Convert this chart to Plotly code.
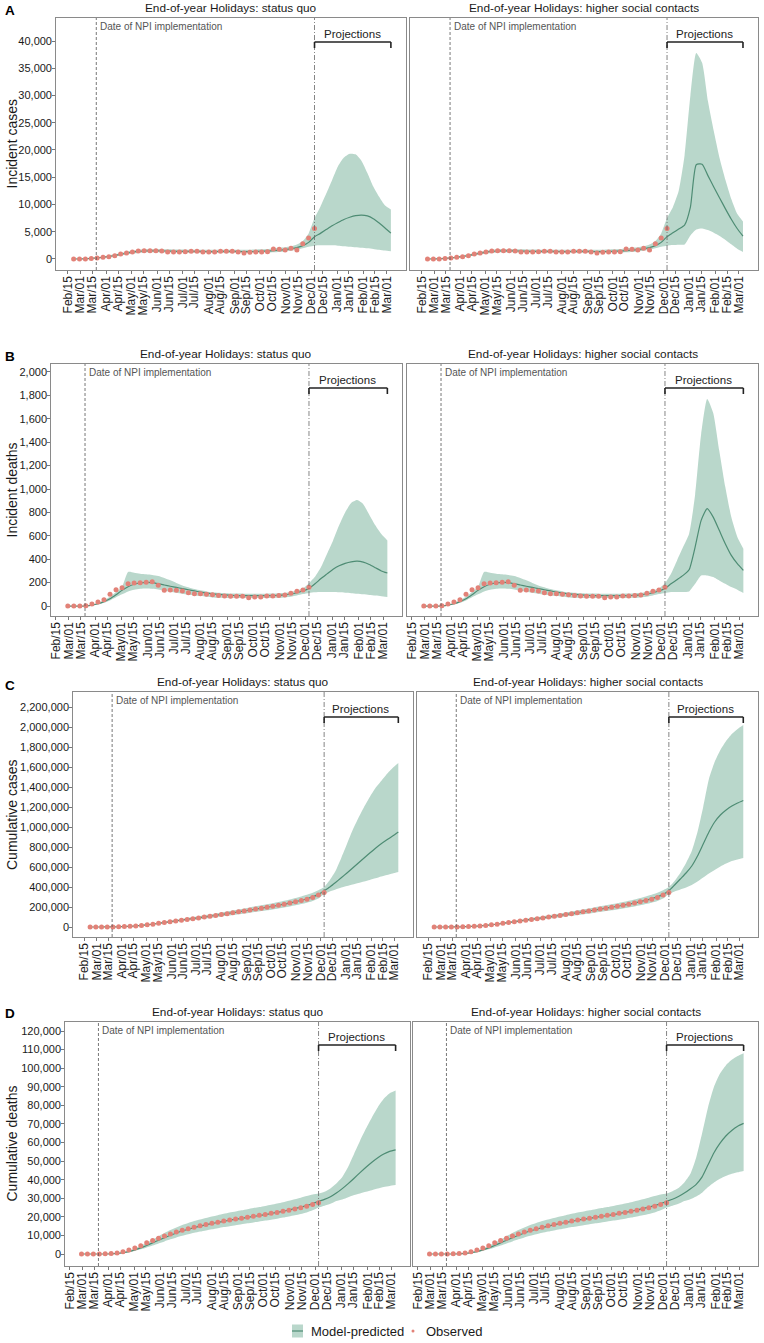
import plotly.graph_objects as go
import pandas as pd

W, H = 764, 1343
FONT = "Liberation Sans, Arial, Helvetica, sans-serif"

# ------------------------------------------------------------------ dates
cases_obs_dates = pd.date_range("2020-02-22", "2020-12-05", freq="7D")
deaths_obs_dates = pd.date_range("2020-02-29", "2020-12-05", freq="7D")
cases_fit_dates = pd.date_range("2020-02-22", "2020-11-28", freq="7D")
deaths_fit_dates = pd.date_range("2020-02-29", "2020-11-28", freq="7D")
proj_dates = pd.date_range("2020-12-05", "2021-03-06", freq="7D")
npi_date = "2020-03-20"
proj_start = "2020-12-05"
proj_end = "2021-03-06"
proj_mid = "2021-01-19"

tick_dates = ["2020-02-15", "2020-03-01", "2020-03-15", "2020-04-01", "2020-04-15",
              "2020-05-01", "2020-05-15", "2020-06-01", "2020-06-15", "2020-07-01",
              "2020-07-15", "2020-08-01", "2020-08-15", "2020-09-01", "2020-09-15",
              "2020-10-01", "2020-10-15", "2020-11-01", "2020-11-15", "2020-12-01",
              "2020-12-15", "2021-01-01", "2021-01-15", "2021-02-01", "2021-02-15",
              "2021-03-01"]
tick_text = ["Feb/15", "Mar/01", "Mar/15", "Apr/01", "Apr/15", "May/01", "May/15",
             "Jun/01", "Jun/15", "Jul/01", "Jul/15", "Aug/01", "Aug/15", "Sep/01",
             "Sep/15", "Oct/01", "Oct/15", "Nov/01", "Nov/15", "Dec/01", "Dec/15",
             "Jan/01", "Jan/15", "Feb/01", "Feb/15", "Mar/01"]

scenario_titles = ["End-of-year Holidays: status quo",
                   "End-of-year Holidays: higher social contacts"]
legend_labels = ["Model-predicted", "Observed"]

# ------------------------------------------------------------------ incident cases
inc_cases_obs = [0, 0, 20, 80, 180, 300, 430, 600, 900, 1100, 1300, 1450, 1500, 1500,
                 1500, 1480, 1300, 1280, 1300, 1350, 1420, 1400, 1300, 1280, 1290, 1400,
                 1420, 1400, 1300, 1100, 1220, 1280, 1280, 1340, 1830, 1770, 1650, 1950,
                 1650, 2800, 3850, 5600]
inc_cases_fit_mid = [0, 10, 40, 100, 190, 310, 460, 640, 850, 1060, 1250, 1390, 1470, 1500,
                     1500, 1480, 1450, 1420, 1400, 1390, 1390, 1390, 1380, 1370, 1370, 1380,
                     1390, 1390, 1380, 1370, 1370, 1390, 1420, 1470, 1540, 1620, 1720, 1860,
                     2080, 2450, 3050]
inc_cases_fit_hi = [0, 20, 70, 160, 290, 450, 640, 850, 1080, 1320, 1540, 1700, 1790, 1830,
                    1830, 1810, 1780, 1750, 1720, 1710, 1710, 1710, 1700, 1690, 1690, 1700,
                    1710, 1710, 1700, 1700, 1710, 1740, 1780, 1850, 1940, 2040, 2170, 2340,
                    2650, 3300, 4700]
inc_cases_fit_lo = [0, 0, 20, 60, 120, 210, 330, 470, 640, 820, 990, 1120, 1190, 1220,
                    1220, 1200, 1180, 1150, 1130, 1120, 1120, 1120, 1110, 1100, 1100, 1110,
                    1120, 1120, 1110, 1100, 1100, 1120, 1140, 1180, 1230, 1300, 1390, 1500,
                    1680, 1950, 2250]
inc_cases_sq_mid = [4100, 4700, 5400, 6100, 6700, 7250, 7650, 7950, 8050, 7900, 7400, 6600, 5700, 4750]
inc_cases_sq_hi = [7500, 9600, 12000, 14500, 17000, 18600, 19300, 19200, 18000, 15800, 13300, 11400, 9800, 9100]
inc_cases_sq_lo = [2450, 2500, 2500, 2500, 2450, 2350, 2250, 2150, 2050, 1950, 1850, 1700, 1550, 1400]
inc_cases_hc_mid = [4100, 4800, 5500, 6200, 9500, 17300, 17400, 15300, 13200, 11200, 9200, 7300, 5600, 4200]
inc_cases_hc_hi = [7500, 9500, 12500, 19000, 30000, 37800, 36000, 29000, 23500, 18500, 14500, 11000, 8300, 6900]
inc_cases_hc_lo = [2450, 2550, 2600, 2650, 4300, 5400, 5600, 5300, 4800, 4200, 3500, 2700, 1900, 1300]

# ------------------------------------------------------------------ incident deaths
inc_deaths_obs = [0, 0, 0, 3, 17, 34, 54, 100, 140, 157, 191, 197, 200, 203, 208, 177, 134,
                  137, 134, 129, 114, 106, 106, 100, 97, 91, 86, 83, 83, 83, 71, 77, 77, 86,
                  86, 91, 94, 109, 126, 137, 160]
inc_deaths_fit_mid = [0, 0, 0, 2, 8, 20, 38, 63, 97, 134, 165, 186, 198, 203, 200, 191, 180,
                      169, 159, 149, 139, 129, 120, 111, 105, 100, 95, 91, 90, 89, 89, 89, 89,
                      89, 90, 91, 96, 103, 114, 129]
inc_deaths_fit_hi = [0, 0, 0, 3, 12, 28, 50, 80, 120, 165, 291, 285, 277, 271, 265, 256, 240,
                     220, 198, 176, 160, 145, 134, 125, 118, 113, 110, 108, 107, 106, 106, 106,
                     106, 106, 107, 109, 114, 121, 133, 150]
inc_deaths_fit_lo = [0, 0, 0, 1, 5, 13, 28, 48, 75, 100, 125, 140, 148, 150, 148, 142, 133,
                     122, 113, 106, 98, 91, 85, 79, 74, 71, 69, 68, 68, 68, 68, 68, 68, 68, 69,
                     70, 74, 80, 90, 102]
inc_deaths_sq_mid = [151, 190, 235, 275, 315, 345, 365, 378, 383, 375, 355, 328, 300, 282]
inc_deaths_sq_hi = [195, 250, 333, 447, 561, 690, 800, 880, 905, 870, 780, 690, 615, 560]
inc_deaths_sq_lo = [112, 118, 120, 120, 120, 118, 114, 110, 105, 100, 95, 90, 84, 78]
inc_deaths_hc_mid = [151, 190, 225, 262, 310, 504, 732, 832, 760, 647, 533, 433, 362, 305]
inc_deaths_hc_hi = [195, 276, 390, 504, 618, 950, 1470, 1770, 1650, 1330, 1020, 760, 590, 490]
inc_deaths_hc_lo = [112, 120, 120, 120, 125, 190, 262, 262, 248, 219, 190, 162, 140, 111]

# ------------------------------------------------------------------ cumulative cases
cum_cases_obs = [0, 0, 100, 400, 1000, 2200, 4000, 6700, 10500, 15500, 21500, 28500, 36500,
                 44500, 52500, 60500, 68500, 76000, 83500, 91000, 99000, 107500, 116000,
                 124500, 133000, 142000, 151500, 161000, 170500, 179500, 188500, 197500,
                 207000, 217000, 228500, 240500, 252000, 265500, 278500, 296000, 319000, 345000]
cum_cases_fit_mid = [0, 0, 200, 600, 1300, 2500, 4300, 7000, 10800, 15700, 21700, 28800, 36700,
                     44800, 52900, 61000, 69000, 76700, 84300, 92000, 100000, 108300, 116700,
                     125000, 133500, 142300, 151300, 160500, 169800, 179000, 188200, 197600,
                     207300, 217500, 228500, 240500, 253500, 267500, 283000, 301500, 326000]
cum_cases_fit_hi = [0, 0, 300, 800, 1700, 3200, 5400, 8600, 13200, 19100, 26300, 34800, 44200,
                    53700, 63100, 72400, 81500, 90300, 99000, 107800, 116800, 126300, 135800,
                    145300, 155000, 165000, 175200, 185600, 196100, 206500, 216900, 227500,
                    238500, 250000, 262500, 276000, 290500, 306000, 323000, 343000, 368000]
cum_cases_fit_lo = [0, 0, 100, 400, 900, 1800, 3200, 5300, 8300, 12300, 17100, 22800, 29200,
                    35900, 42700, 49600, 56500, 63100, 69600, 76200, 83200, 90300, 97600,
                    104700, 112000, 119600, 127400, 135400, 143500, 151500, 159500, 167700,
                    176100, 185000, 194500, 205000, 216500, 229000, 243000, 260000, 284000]
cum_cases_sq_mid = [362000, 400000, 445000, 492000, 540000, 590000, 640000, 690000, 740000,
                    788000, 832000, 872000, 910000, 950000]
cum_cases_sq_hi = [400000, 470000, 560000, 690000, 830000, 970000, 1090000, 1200000, 1300000,
                   1390000, 1460000, 1530000, 1590000, 1640000]
cum_cases_sq_lo = [330000, 355000, 375000, 395000, 410000, 425000, 440000, 455000, 470000,
                   487000, 505000, 520000, 535000, 550000]
cum_cases_hc_mid = [362000, 420000, 480000, 540000, 610000, 710000, 830000, 950000, 1050000,
                    1120000, 1170000, 1210000, 1240000, 1265000]
cum_cases_hc_hi = [400000, 460000, 540000, 640000, 760000, 950000, 1200000, 1480000, 1650000,
                   1770000, 1860000, 1930000, 1980000, 2020000]
cum_cases_hc_lo = [330000, 355000, 375000, 395000, 420000, 455000, 495000, 535000, 570000,
                   605000, 635000, 660000, 675000, 690000]

# ------------------------------------------------------------------ cumulative deaths
cum_deaths_obs = [0, 0, 0, 0, 100, 250, 500, 1200, 2100, 3300, 4500, 6000, 7300, 8500, 9700,
                  10800, 11900, 12800, 13600, 14400, 15200, 15900, 16500, 17100, 17700, 18300,
                  18800, 19300, 19800, 20300, 20800, 21300, 21900, 22400, 23000, 23600, 24200,
                  24900, 25700, 26600, 27600]
cum_deaths_fit_mid = [0, 0, 0, 0, 20, 100, 300, 700, 1300, 2200, 3300, 4600, 6000, 7400, 8800,
                      10100, 11300, 12400, 13300, 14200, 15000, 15700, 16400, 17000, 17600,
                      18200, 18700, 19200, 19700, 20200, 20700, 21200, 21800, 22400, 23000,
                      23700, 24400, 25200, 26100, 27100]
cum_deaths_fit_hi = [0, 0, 0, 0, 40, 180, 450, 1000, 1800, 2900, 4300, 6000, 7800, 9600, 11300,
                     12900, 14300, 15600, 16700, 17700, 18600, 19400, 20200, 20900, 21600,
                     22300, 22900, 23500, 24100, 24700, 25300, 25900, 26500, 27200, 27900,
                     28700, 29500, 30300, 31200, 32000]
cum_deaths_fit_lo = [0, 0, 0, 0, 5, 50, 180, 450, 900, 1600, 2500, 3500, 4600, 5700, 6800,
                     7900, 8900, 9800, 10600, 11400, 12100, 12700, 13300, 13900, 14500, 15000,
                     15500, 16000, 16500, 17000, 17500, 18000, 18500, 19000, 19600, 20200,
                     20800, 21500, 22400, 23500]
cum_deaths_sq_mid = [28300, 29400, 30800, 32800, 35200, 37900, 40800, 43800, 46700, 49400,
                     51800, 53800, 55200, 56000]
cum_deaths_sq_hi = [32500, 33500, 35300, 38000, 41500, 47000, 54000, 61000, 67500, 73500,
                    79000, 83500, 86500, 88000]
cum_deaths_sq_lo = [25000, 26000, 27000, 28500, 29300, 30500, 31700, 32600, 33500, 34300,
                    35200, 36000, 36600, 37100]
cum_deaths_hc_mid = [28300, 29500, 31000, 32800, 35000, 37500, 41500, 48000, 54500, 59500,
                     63500, 66500, 68800, 70300]
cum_deaths_hc_hi = [32500, 33800, 35500, 38500, 43000, 52000, 65000, 79000, 90000, 97000,
                    101500, 104500, 106500, 108000]
cum_deaths_hc_lo = [25000, 26000, 27000, 28500, 29500, 31000, 33000, 36000, 38500, 40500,
                    42000, 43200, 44000, 44700]

# ------------------------------------------------------------------ styling
FILL = "rgb(185,215,203)"
LINE = "rgb(78,140,116)"
POINT = "rgb(226,130,120)"
BORDER = "#8a8a8a"
TXT = "#1a1a1a"

rows = [
    dict(letter="A", ytitle="Incident cases", yrange=[-2020, 44220], ystep=5000, ymax=40000,
         xrange=["2020-02-01", "2021-03-24"], top=18, bot=270, lx=(56, 406), rx=(410, 758),
         letter_y=11, br_off=24,
         obs_x=cases_obs_dates, obs=inc_cases_obs, fit_x=cases_fit_dates,
         fit=(inc_cases_fit_lo, inc_cases_fit_mid, inc_cases_fit_hi),
         proj=[(inc_cases_sq_lo, inc_cases_sq_mid, inc_cases_sq_hi),
               (inc_cases_hc_lo, inc_cases_hc_mid, inc_cases_hc_hi)]),
    dict(letter="B", ytitle="Incident deaths", yrange=[-85, 2068], ystep=200, ymax=2000,
         xrange=["2020-02-09 12:00", "2021-03-23"], top=364, bot=616, lx=(51, 402), rx=(407, 758),
         letter_y=357, br_off=24,
         obs_x=deaths_obs_dates, obs=inc_deaths_obs, fit_x=deaths_fit_dates,
         fit=(inc_deaths_fit_lo, inc_deaths_fit_mid, inc_deaths_fit_hi),
         proj=[(inc_deaths_sq_lo, inc_deaths_sq_mid, inc_deaths_sq_hi),
               (inc_deaths_hc_lo, inc_deaths_hc_mid, inc_deaths_hc_hi)]),
    dict(letter="C", ytitle="Cumulative cases", yrange=[-100000, 2350000], ystep=200000, ymax=2200000,
         xrange=["2020-02-01", "2021-03-24"], top=692, bot=937, lx=(73, 413), rx=(417, 758),
         letter_y=685, br_off=25,
         obs_x=cases_obs_dates, obs=cum_cases_obs, fit_x=cases_fit_dates,
         fit=(cum_cases_fit_lo, cum_cases_fit_mid, cum_cases_fit_hi),
         proj=[(cum_cases_sq_lo, cum_cases_sq_mid, cum_cases_sq_hi),
               (cum_cases_hc_lo, cum_cases_hc_mid, cum_cases_hc_hi)]),
    dict(letter="D", ytitle="Cumulative deaths", yrange=[-6450, 124850], ystep=10000, ymax=120000,
         xrange=["2020-02-09 12:00", "2021-03-23"], top=1022, bot=1266, lx=(65, 410), rx=(413, 758),
         letter_y=1014, br_off=23,
         obs_x=deaths_obs_dates, obs=cum_deaths_obs, fit_x=deaths_fit_dates,
         fit=(cum_deaths_fit_lo, cum_deaths_fit_mid, cum_deaths_fit_hi),
         proj=[(cum_deaths_sq_lo, cum_deaths_sq_mid, cum_deaths_sq_hi),
               (cum_deaths_hc_lo, cum_deaths_hc_mid, cum_deaths_hc_hi)]),
]

fig = go.Figure()
layout = dict(width=W, height=H, margin=dict(l=0, r=0, t=0, b=0),
              paper_bgcolor="white", plot_bgcolor="white", template="none",
              font=dict(family=FONT, color=TXT), showlegend=False, hovermode=False)
shapes, annotations = [], []
spl = dict(shape="spline", smoothing=0.55)

n = 0
for r in rows:
    h = r["bot"] - r["top"]
    ydom = [1 - r["bot"] / H, 1 - r["top"] / H]
    for c, (x0, x1) in enumerate([r["lx"], r["rx"]]):
        n += 1
        xa = "x" if n == 1 else f"x{n}"
        ya = "y" if n == 1 else f"y{n}"
        xkey = "xaxis" if n == 1 else f"xaxis{n}"
        ykey = "yaxis" if n == 1 else f"yaxis{n}"
        layout[xkey] = dict(domain=[x0 / W, x1 / W], anchor=ya, type="date", range=r["xrange"],
                            tickmode="array", tickvals=tick_dates, ticktext=tick_text,
                            tickangle=-90, ticks="outside", ticklen=3, tickwidth=0.8,
                            tickcolor="#555", showline=True, linecolor=BORDER, linewidth=1.3,
                            mirror=True, showgrid=False, zeroline=False, automargin=False,
                            ticklabelstandoff=-3,
                            tickfont=dict(size=12, color=TXT, family=FONT))
        yticks = list(range(0, r["ymax"] + 1, r["ystep"]))
        layout[ykey] = dict(domain=ydom, anchor=xa, range=r["yrange"], tickmode="array",
                            tickvals=yticks, tickformat=",", showticklabels=(c == 0),
                            ticks="outside" if c == 0 else "", ticklen=2.5, tickwidth=0.8,
                            tickcolor="#555", showline=True, linecolor=BORDER, linewidth=1.3,
                            mirror=True, showgrid=False, zeroline=False, automargin=False,
                            ticklabelstandoff=-2,
                            tickfont=dict(size=11, color=TXT, family=FONT))

        lo_f, mid_f, hi_f = r["fit"]
        lo_p, mid_p, hi_p = r["proj"][c]
        mx = list(r["fit_x"]) + list(proj_dates)
        fig.add_trace(go.Scatter(x=mx, y=lo_f + lo_p, mode="lines", line=dict(width=0, color=FILL, **spl),
                                 xaxis=xa, yaxis=ya, hoverinfo="skip"))
        fig.add_trace(go.Scatter(x=mx, y=hi_f + hi_p, mode="lines", line=dict(width=0, color=FILL, **spl),
                                 fill="tonexty", fillcolor=FILL, xaxis=xa, yaxis=ya,
                                 name=legend_labels[0], hoverinfo="skip"))
        fig.add_trace(go.Scatter(x=mx, y=mid_f + mid_p, mode="lines",
                                 line=dict(width=1.2, color=LINE, **spl),
                                 xaxis=xa, yaxis=ya, name=legend_labels[0]))
        fig.add_trace(go.Scatter(x=r["obs_x"], y=r["obs"], mode="markers",
                                 marker=dict(size=5, color=POINT, line=dict(width=0)),
                                 xaxis=xa, yaxis=ya, name=legend_labels[1]))

        # vertical reference lines
        shapes.append(dict(type="line", xref=xa, yref=f"{ya} domain", x0=npi_date, x1=npi_date,
                           y0=0, y1=1, line=dict(color="#555", width=0.8, dash="3px,2px")))
        shapes.append(dict(type="line", xref=xa, yref=f"{ya} domain", x0=proj_start, x1=proj_start,
                           y0=0, y1=1, line=dict(color="#666", width=0.8, dash="5px,2px,1px,2px")))
        # projections bracket
        yb = 1 - r["br_off"] / h
        yt = 1 - (r["br_off"] + 6) / h
        for (bx0, bx1, by0, by1) in [(proj_start, proj_end, yb, yb),
                                     (proj_start, proj_start, yb, yt),
                                     (proj_end, proj_end, yb, yt)]:
            shapes.append(dict(type="line", xref=xa, yref=f"{ya} domain", x0=bx0, x1=bx1,
                               y0=by0, y1=by1, line=dict(color="#222", width=1.6)))
        annotations.append(dict(text="Projections", xref=xa, yref=f"{ya} domain", x=proj_mid, y=yb,
                                xanchor="center", yanchor="bottom", yshift=0, showarrow=False,
                                font=dict(size=11.5, color="#222", family=FONT)))
        annotations.append(dict(text="Date of NPI implementation", xref=xa, yref=f"{ya} domain",
                                x=npi_date, y=1, xanchor="left", yanchor="top", xshift=2, yshift=-1,
                                showarrow=False, font=dict(size=10, color="#555", family=FONT)))
        # panel title
        annotations.append(dict(text=scenario_titles[c], xref="paper", yref="paper",
                                x=(x0 + x1) / 2 / W, y=1 - (r["top"] - 1) / H,
                                xanchor="center", yanchor="bottom", showarrow=False,
                                font=dict(size=11.8, color=TXT, family=FONT)))
    # row letter and y title
    annotations.append(dict(text=f"<b>{r['letter']}</b>", xref="paper", yref="paper",
                            x=3 / W, y=1 - r["letter_y"] / H, xanchor="left", yanchor="middle",
                            showarrow=False, font=dict(size=13.5, color="#000", family=FONT)))
    annotations.append(dict(text=r["ytitle"], xref="paper", yref="paper", textangle=-90,
                            x=11.5 / W, y=1 - (r["top"] + r["bot"]) / 2 / H,
                            xanchor="center", yanchor="middle", showarrow=False,
                            font=dict(size=14, color=TXT, family=FONT)))

# ------------------------------------------------------------------ legend (bottom, ggplot style)
LYP = 1331
LY = 1 - LYP / H
shapes.append(dict(type="rect", xref="paper", yref="paper", x0=292 / W, x1=303 / W,
                   y0=1 - (LYP + 6.5) / H, y1=1 - (LYP - 6.5) / H, fillcolor=FILL, line=dict(width=0)))
shapes.append(dict(type="line", xref="paper", yref="paper", x0=292 / W, x1=303 / W,
                   y0=LY, y1=LY, line=dict(color=LINE, width=1.2)))
shapes.append(dict(type="circle", xref="paper", yref="paper", x0=411.5 / W, x1=414.5 / W,
                   y0=1 - (LYP + 1.5) / H, y1=1 - (LYP - 1.5) / H, fillcolor=POINT, line=dict(width=0)))
annotations.append(dict(text=legend_labels[0], xref="paper", yref="paper", x=309 / W, y=LY,
                        xanchor="left", yanchor="middle", showarrow=False,
                        font=dict(size=13, color=TXT, family=FONT)))
annotations.append(dict(text=legend_labels[1], xref="paper", yref="paper", x=424 / W, y=LY,
                        xanchor="left", yanchor="middle", showarrow=False,
                        font=dict(size=13, color=TXT, family=FONT)))

layout["shapes"] = shapes
layout["annotations"] = annotations
fig.update_layout(**layout)
# remove the browser's default 8px body margin so the figure sits at the page origin
fig.write_html("out.html", config={"displayModeBar": False, "staticPlot": True},
               post_script="document.body.style.margin='0px';document.body.style.overflow='hidden';")
